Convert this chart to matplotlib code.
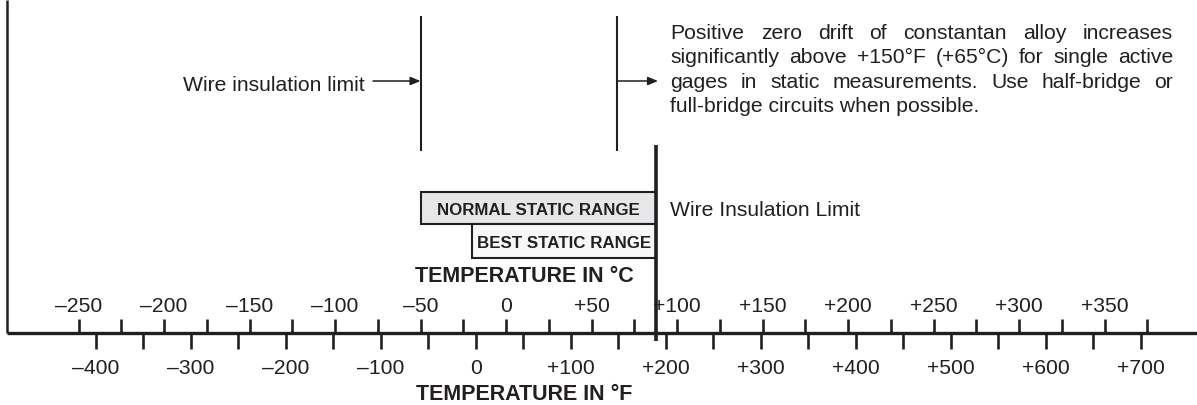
import numpy as np
import matplotlib.pyplot as plt
from matplotlib.patches import Rectangle

# --- SCALE DATA ---
c_ticks = np.arange(-250, 376, 25)        # Celsius ticks (above axis)
c_labels = np.arange(-250, 351, 50)       # labelled Celsius values
f_ticks = np.arange(-400, 701, 50)        # Fahrenheit ticks (below axis)
f_labels = np.arange(-400, 701, 100)      # labelled Fahrenheit values

# --- RANGES (deg C) ---
normal_range = [-50, 88]
best_range = [-20, 88]
wire_limit_c = 88                          # Wire Insulation Limit (thick line)
marker_lines_c = [-50, 65]                 # thin vertical markers

para_lines = [
    "Positive zero drift of constantan alloy increases",
    "significantly above +150°F (+65°C) for single active",
    "gages in static measurements. Use half-bridge or",
    "full-bridge circuits when possible.",
]

ink = '#231f20'
font = 'Liberation Sans'

# pixel layout -> deg C on the x axis
zero_px, px_per_c = 506, 1.71
def px(x):
    return (x - zero_px) / px_per_c

def f_to_c(f):
    return (np.asarray(f) - 32) * 5 / 9

def fmt(v):
    if v > 0:
        return '+%d' % v
    if v < 0:
        return '\u2013%d' % abs(v)
    return '0'

fig = plt.figure(figsize=(11.97, 4.05), dpi=100)
ax = fig.add_axes([0, 0, 1, 1])
ax.set_xlim(px(0), px(1197))
ax.set_ylim(405, 0)
ax.axis('off')

axis_y = 333

# frame: left border and main axis
ax.plot([px(7), px(7)], [0, axis_y], color=ink, lw=1.8, solid_capstyle='butt')
ax.plot([px(7), px(1197)], [axis_y, axis_y], color=ink, lw=2.4, solid_capstyle='butt')

# Celsius ticks and labels
ax.vlines(c_ticks, axis_y - 14, axis_y, color=ink, lw=1.9)
for v in c_labels:
    ax.text(v, 312.5, fmt(v), ha='center', va='baseline', fontsize=15.2,
            family=font, color=ink)

# Fahrenheit ticks and labels
ax.vlines(f_to_c(f_ticks), axis_y, axis_y + 16, color=ink, lw=1.9)
for v in f_labels:
    ax.text(f_to_c(v), 373.5, fmt(v), ha='center', va='baseline', fontsize=15.2,
            family=font, color=ink)

ax.text(px(524), 282, 'TEMPERATURE IN °C', ha='center', va='baseline',
        fontsize=15.5, fontweight='bold', family=font, color=ink)
ax.text(px(524), 400, 'TEMPERATURE IN °F', ha='center', va='baseline',
        fontsize=15.5, fontweight='bold', family=font, color=ink)

# static range boxes
ax.add_patch(Rectangle((normal_range[0], 191.7), normal_range[1] - normal_range[0], 32.6,
                       facecolor='#e6e7e8', edgecolor=ink, lw=1.5))
ax.add_patch(Rectangle((best_range[0], 224.3), best_range[1] - best_range[0], 34,
                       facecolor='#f7f7f7', edgecolor=ink, lw=1.5))
ax.text(sum(normal_range) / 2, 215, 'NORMAL STATIC RANGE', ha='center', va='baseline',
        fontsize=12.2, fontweight='bold', family=font, color=ink)
ax.text(sum(best_range) / 2, 248.3, 'BEST STATIC RANGE', ha='center', va='baseline',
        fontsize=12.2, fontweight='bold', family=font, color=ink)

# wire insulation limit (thick line)
ax.plot([wire_limit_c, wire_limit_c], [145, 341], color=ink, lw=2.6, solid_capstyle='butt')
ax.text(px(670.5), 216, 'Wire Insulation Limit', ha='left', va='baseline',
        fontsize=15.2, family=font, color=ink)

# thin marker lines
ax.vlines(marker_lines_c, 16, 151, color=ink, lw=1.5)

arrow = dict(arrowstyle='-|>,head_length=0.6,head_width=0.25', lw=1.1, color=ink,
             mutation_scale=10, shrinkA=0, shrinkB=0)
ax.annotate('', xy=(marker_lines_c[0], 81), xytext=(px(373), 81), arrowprops=arrow)
ax.annotate('', xy=(px(658), 81), xytext=(marker_lines_c[1], 81), arrowprops=arrow)
ax.text(px(364.5), 90.7, 'Wire insulation limit', ha='right', va='baseline',
        fontsize=15.2, family=font, color=ink)

# justified paragraph
para_left, para_right = 670.5, 1173
para_base, para_step = 39, 24.4
renderer = fig.canvas.get_renderer()
for i, line in enumerate(para_lines):
    y = para_base + i * para_step
    if i == len(para_lines) - 1:
        ax.text(px(para_left), y, line, ha='left', va='baseline', fontsize=15.2,
                family=font, color=ink)
        continue
    words = line.split()
    objs = [ax.text(0, y, w, ha='left', va='baseline', fontsize=15.2,
                    family=font, color=ink) for w in words]
    widths = [o.get_window_extent(renderer).width for o in objs]
    gap = (para_right - para_left - sum(widths)) / (len(words) - 1)
    x = para_left
    for o, w in zip(objs, widths):
        o.set_x(px(x))
        x += w + gap

plt.savefig('out.png', dpi=100)
